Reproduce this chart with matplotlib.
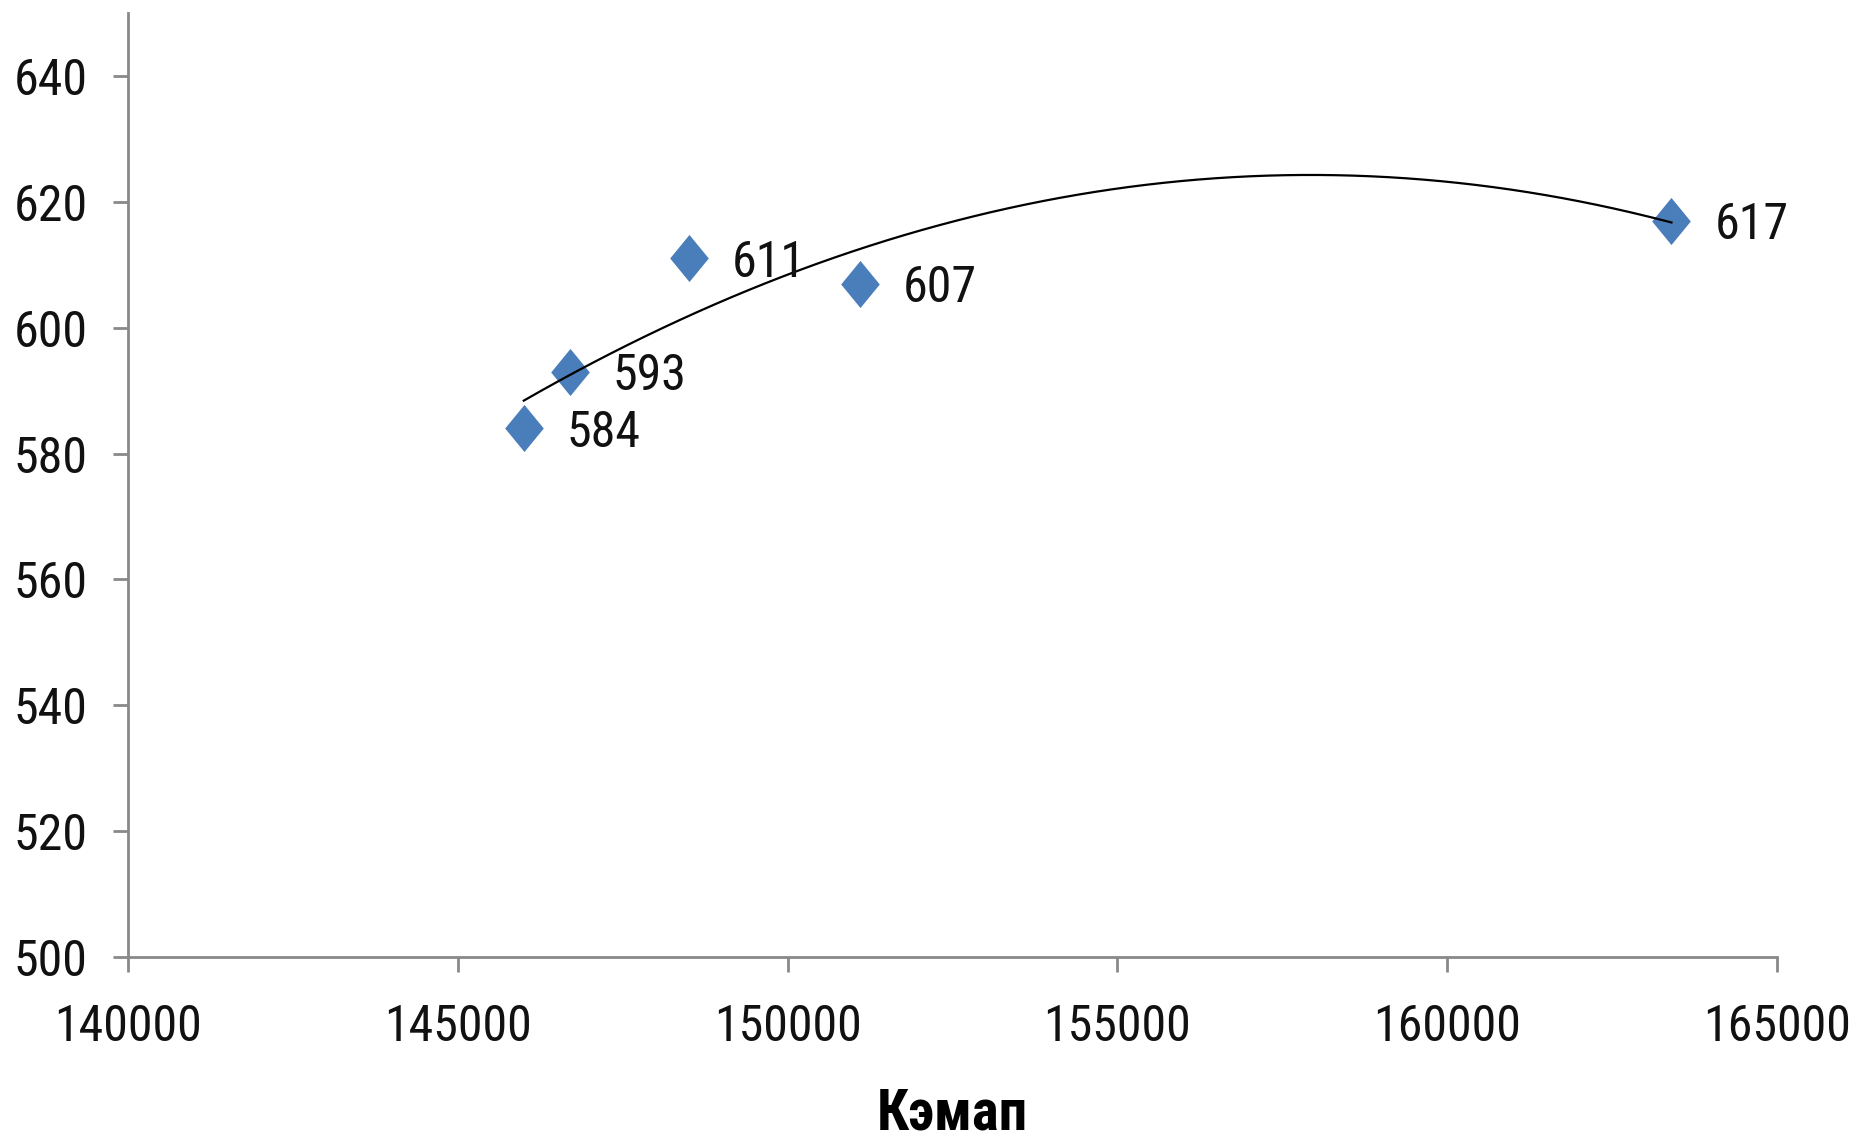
"""Scatter of Кэмап values with a second-order trendline."""

import matplotlib

matplotlib.use("Agg")

import matplotlib.pyplot as plt
import numpy as np
from matplotlib import font_manager as fm

# data
x_vals = [146000, 146700, 148500, 151100, 163400]
y_vals = [584, 593, 611, 607, 617]
x_ticks = [140000, 145000, 150000, 155000, 160000, 165000]
y_ticks = [500, 520, 540, 560, 580, 600, 620, 640]

point_color = "#4A7EBB"
axis_color = "#898989"

# narrow face close to the spreadsheet's Calibri, if one is around
installed = {f.name for f in fm.fontManager.ttflist}
narrow = next((n for n in ("Liberation Sans Narrow", "Roboto Condensed",
                           "Open Sans Condensed", "Sofia Sans Condensed")
               if n in installed), "DejaVu Sans")
plt.rcParams["font.family"] = [narrow, "DejaVu Sans"]

fig = plt.figure(figsize=(18.58, 11.42), dpi=100)
ax = fig.add_axes([0.0689, 0.162, 0.8875, 0.8266])

# polynomial (order 2) trendline, as in the spreadsheet
coef = np.polyfit(x_vals, y_vals, 2)
xs = np.linspace(min(x_vals), max(x_vals), 200)
ax.plot(xs, np.polyval(coef, xs), color="black", lw=1.6, zorder=3)

diamond = [(0, 1), (0.82, 0), (0, -1), (-0.82, 0), (0, 1)]
ax.scatter(x_vals, y_vals, marker=diamond, s=1150, color=point_color,
           linewidths=0, zorder=2)

for xv, yv in zip(x_vals, y_vals):
    ax.annotate(str(yv), (xv, yv), xytext=(31, -3), textcoords="offset points",
                va="center", ha="left", fontsize=36, color="#111111")

ax.set_xlim(140000, 165000)
ax.set_ylim(500, 650)
ax.set_xticks(x_ticks)
ax.set_yticks(y_ticks)
ax.set_xticklabels([str(t) for t in x_ticks])
ax.set_yticklabels([str(t) for t in y_ticks])

for side in ("top", "right"):
    ax.spines[side].set_visible(False)
for side in ("left", "bottom"):
    ax.spines[side].set_color(axis_color)
    ax.spines[side].set_linewidth(2)

ax.tick_params(axis="both", colors=axis_color, width=2, length=11,
               labelsize=36, labelcolor="#111111")
ax.tick_params(axis="x", pad=22)
ax.tick_params(axis="y", pad=18)

ax.set_xlabel("Кэмап", fontsize=41, fontweight="bold", labelpad=26)

fig.savefig("out.png", dpi=100)
plt.close(fig)
